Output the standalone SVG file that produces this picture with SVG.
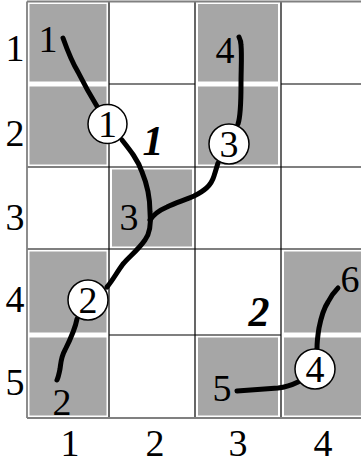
<svg xmlns="http://www.w3.org/2000/svg" width="361" height="463" viewBox="0 0 361 463">
<style>
.cell{fill:#a6a6a6}
.grid{stroke:#000;stroke-width:1.2;fill:none}
.edge{stroke:#808080;stroke-width:1.8;fill:none}
.t{font-family:"Liberation Serif",serif;font-size:38px;fill:#000;text-anchor:middle}
.bi{font-family:"Liberation Serif",serif;font-size:42px;font-weight:bold;font-style:italic;fill:#000;text-anchor:middle}
.curve{fill:none;stroke:#000;stroke-width:5;stroke-linecap:round;stroke-linejoin:round}
.node circle{fill:#fff;stroke:#000;stroke-width:1.5}
</style>
<rect width="361" height="463" fill="#fff"/>
<g id="cells">
<rect class="cell" x="29.5" y="4" width="77" height="77.5"/>
<rect class="cell" x="29.5" y="86.5" width="77" height="78"/>
<rect class="cell" x="198" y="4" width="80" height="77.5"/>
<rect class="cell" x="198" y="86.5" width="80" height="78"/>
<rect class="cell" x="112" y="169.5" width="80" height="77"/>
<rect class="cell" x="29.5" y="251.5" width="77" height="81"/>
<rect class="cell" x="29.5" y="337.5" width="77" height="78"/>
<rect class="cell" x="284" y="251.5" width="77" height="81"/>
<rect class="cell" x="198" y="337.5" width="80" height="78"/>
<rect class="cell" x="284" y="337.5" width="77" height="78"/>
</g>
<g id="grid">
<line class="grid" x1="109" y1="1.5" x2="109" y2="418"/>
<line class="grid" x1="195" y1="1.5" x2="195" y2="418"/>
<line class="grid" x1="281" y1="1.5" x2="281" y2="418"/>
<line class="grid" x1="109" y1="84" x2="195" y2="84"/>
<line class="grid" x1="281" y1="84" x2="361" y2="84"/>
<line class="grid" x1="27" y1="167" x2="361" y2="167"/>
<line class="grid" x1="27" y1="249" x2="361" y2="249"/>
<line class="grid" x1="109" y1="335" x2="281" y2="335"/>
<line class="edge" x1="27" y1="1.5" x2="361" y2="1.5"/>
<line class="edge" x1="27" y1="418" x2="361" y2="418"/>
<line class="edge" x1="27" y1="1.5" x2="27" y2="418"/>
</g>
<g id="axis-labels">
<text class="t" x="15" y="61">1</text>
<text class="t" x="15" y="146">2</text>
<text class="t" x="15" y="230">3</text>
<text class="t" x="15" y="312">4</text>
<text class="t" x="15" y="395">5</text>
<text class="t" x="70" y="456">1</text>
<text class="t" x="155" y="456">2</text>
<text class="t" x="238" y="456">3</text>
<text class="t" x="323" y="456">4</text>
</g>
<g id="connectors">
<path class="curve" d="M63,38 C68,52 72,62 78,72 C84,84 90,95 98,108"/>
<path class="curve" d="M122,140 C130,150 138,160 142,172 C147,184 150,198 150,212 C151,222 151,232 145,240 C138,250 130,256 123,264 C117,272 113,280 107,287"/>
<path class="curve" d="M150,220 C154,214 160,210 167,207 C175,203 185,200 194,196 C204,191 211,186 214,176 C216,170 217,166 218,163"/>
<path class="curve" d="M238,124 C241,115 241,100 241,84 C241,70 242,55 241,45 C241,41 240,39 239,37"/>
<path class="curve" d="M77,319 C75,330 70,340 65,350 C61,357 61,362 60,369 C59,374 58,378 57,380"/>
<path class="curve" d="M237,391 C250,390 265,389 278,388 C287,387 292,385 298,382"/>
<path class="curve" d="M317,349 C317,342 318,334 319,328 C321,318 324,308 328,302 C331,296 334,292 338,288"/>
</g>
<g id="node-1" class="node"><circle cx="107.5" cy="124" r="19.5"/><text class="t" x="107.5" y="137">1</text></g>
<g id="node-2" class="node"><circle cx="88" cy="300" r="20"/><text class="t" x="88" y="313">2</text></g>
<g id="node-3" class="node"><circle cx="229" cy="144" r="20"/><text class="t" x="229" y="157">3</text></g>
<g id="node-4" class="node"><circle cx="315" cy="369" r="20"/><text class="t" x="315" y="382">4</text></g>
<g id="point-labels">
<text class="t" x="48" y="52">1</text>
<text class="t" x="225" y="63">4</text>
<text class="t" x="129" y="230">3</text>
<text class="t" x="62" y="415">2</text>
<text class="t" x="222" y="401">5</text>
<text class="t" x="350" y="292">6</text>
</g>
<g id="path-labels">
<text class="bi" x="153" y="155">1</text>
<text class="bi" x="259" y="326">2</text>
</g>
</svg>
